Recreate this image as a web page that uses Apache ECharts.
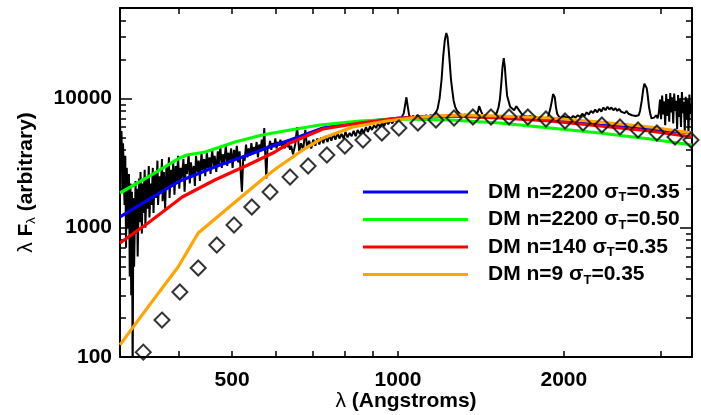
<!DOCTYPE html>
<html><head><meta charset="utf-8">
<script src="https://cdn.jsdelivr.net/npm/echarts@6/dist/echarts.min.js"></script>
<style>html,body{margin:0;padding:0;background:#fff}#c{width:701px;height:415px}</style>
</head><body><div id="c"></div>
<script>
// ---- axes ----
const xMin = 313, xMax = 3417;
const yMin = 100, yMax = 50000;
const xTickValues = [400, 500, 600, 700, 800, 900, 1000, 2000, 3000];
const xLabelValues = [500, 1000, 2000];
const yMajorValues = [100, 1000, 10000];
const yMinorValues = [200, 300, 400, 500, 600, 700, 800, 900, 2000, 3000, 4000, 5000, 6000, 7000, 8000, 9000, 20000, 30000, 40000, 50000];

// ---- observed spectrum (black) ----
const specWave = [313,314,315,316,317,319,320,321,322,324,325,326,327,328,329,330,331,332,334,335,336,337,339,340,341,343,344,345,347,348,350,351,353,354,356,357,359,360,362,364,366,367,369,371,373,374,376,378,380,382,384,385,387,389,391,393,395,397,399,401,403,405,408,410,412,414,417,419,421,423,426,428,430,433,435,437,440,442,445,447,450,452,455,457,460,463,465,468,471,473,476,479,481,484,487,490,492,495,498,501,504,507,510,513,516,519,521,524,527,530,533,536,539,542,545,548,551,554,557,560,563,566,569,572,574,577,580,583,586,589,592,596,599,602,605,609,612,616,619,623,626,630,633,637,640,645,651,656,662,667,673,679,684,690,696,702,708,714,720,726,732,738,745,751,757,764,770,777,783,790,797,803,810,817,824,831,838,845,853,860,867,875,882,890,897,905,913,920,928,936,944,952,960,969,977,985,994,1002,1010,1018,1024,1030,1036,1042,1048,1055,1065,1075,1085,1095,1105,1115,1125,1135,1145,1155,1165,1172,1180,1190,1200,1208,1216,1224,1230,1236,1242,1248,1255,1262,1270,1280,1295,1310,1325,1340,1355,1370,1385,1397,1404,1410,1416,1426,1440,1455,1470,1485,1500,1512,1522,1531,1540,1548,1556,1563,1570,1578,1588,1598,1610,1625,1640,1651,1662,1680,1700,1720,1740,1760,1780,1800,1820,1840,1860,1875,1890,1903,1912,1919,1926,1935,1945,1960,1980,2000,2020,2040,2060,2080,2100,2120,2140,2160,2180,2200,2220,2240,2260,2280,2300,2320,2340,2360,2380,2400,2420,2440,2460,2480,2500,2520,2540,2560,2580,2600,2620,2640,2660,2680,2700,2720,2735,2750,2770,2785,2800,2815,2828,2840,2855,2870,2885,2900,2915,2930,2945,2960,2975,2990,3003,3016,3029,3042,3055,3068,3081,3094,3107,3120,3133,3146,3159,3172,3185,3198,3211,3224,3237,3250,3263,3276,3289,3302,3315,3328,3341,3354,3367,3380,3393,3406,3417];
const specFlux = [7200,3000,5600,1900,4500,1500,3600,700,2900,1000,2600,420,2200,300,1900,60,1700,500,2300,900,2000,600,2400,1100,2700,900,2200,1300,2800,1000,2500,1400,3000,1200,2200,1500,2900,1300,2600,1700,3300,1500,2500,1900,3400,1600,2700,1400,3000,2000,3500,1700,2800,2100,3200,1800,3000,2300,3600,2000,2900,2400,3400,1900,3100,2600,3700,2200,3200,2500,3000,2100,3600,2700,3300,2300,3800,2800,3400,2500,3900,2900,3500,2600,4000,3000,3600,2700,3900,3100,4200,2900,3700,3200,4300,3000,3800,3300,4100,2900,4000,3400,4300,3200,3900,2400,1900,3600,3300,4400,3500,4100,3600,4500,3700,4200,3800,4600,3500,4400,3900,4800,4000,5900,3900,2400,4300,4100,4700,4000,4500,4200,4900,4100,4600,4300,4800,4200,4500,4100,4700,4200,4400,4000,4300,3700,4400,6000,3900,4500,4000,5700,4200,4700,4100,4800,4300,4900,4400,5000,4500,5100,4600,5200,4700,5300,4800,5400,4900,5300,4900,5500,5000,5400,5100,5600,5100,5700,5300,5800,5400,6000,5500,6100,5700,6200,5900,6400,6000,6500,6100,6700,6300,6800,6400,7000,6600,7100,6800,7300,7600,8800,10200,8600,7400,7100,7300,7100,7400,7200,7300,7100,7400,7200,7400,7300,7500,7800,8300,10000,14000,21000,28000,32000,30000,24000,18500,14000,11500,9600,8600,8000,7600,7400,7500,7300,7400,7300,7500,7900,8700,8900,7900,7400,7300,7200,7300,7200,7400,7800,8500,9800,13000,17500,20500,17500,13500,10500,9500,8600,8300,8100,8700,8900,8000,7500,7300,7200,7300,7100,7200,7000,7100,7000,6900,7300,8300,9600,10800,11000,10200,8600,7600,7200,7000,7300,7100,7200,7000,7300,7100,7400,7200,7600,7300,7800,7500,8000,7700,8200,7800,8300,7900,8500,8100,8600,8200,8500,8100,8400,8000,8300,7900,8100,7700,8000,7600,7800,7400,7600,7300,7500,7400,8000,9600,11500,13000,13400,12000,10500,8600,7600,7000,6800,7100,6900,7400,7000,7800,9800,6900,10500,7500,9500,6200,10800,7300,9900,6600,11000,7800,10200,6400,10900,8000,9600,5800,10600,7200,10000,6000,11200,7700,9400,5500,10300,6900,9800,5300,10700,7600,9100,6000];

// ---- model curves ----
const modelN = ['2200', '2200', '140', '9'];
const modelSigma = ['0.35', '0.50', '0.35', '0.35'];
const modelColors = ['#0000ff', '#00ff00', '#ff0000', '#ffa500'];

const blueWave = [313,352,402,465,534,598,637,731,853,1008,1243,1531,1888,2326,2867,3417];
const blueFlux = [1210,1638,2297,2947,3650,4362,4769,5904,6570,7053,7310,7180,6807,6228,5798,5401];

const greenWave = [313,352,402,414,447,506,567,637,722,853,1008,1243,1531,1888,2326,2867,3417];
const greenFlux = [1855,2467,3460,3650,3850,4600,5212,5696,6228,6686,6930,6807,6452,5904,5401,4853,4362];

const redWave = [313,352,406,465,534,598,637,731,853,1008,1243,1531,1888,2326,2867,3417];
const redFlux = [762,1087,1728,2338,3054,3850,4520,5798,6452,7053,7310,7053,6686,6115,5597,5028];

const orangeWave = [313,352,399,434,499,574,603,672,731,828,955,1096,1296,1531,1888,2326,2867,3417];
const orangeFlux = [124,244,497,910,1498,2467,2895,3990,4940,6007,6686,7180,7438,7310,7053,6570,6007,5401];

// ---- diamonds ----
const diamondWave = [345,373,402,434,469,504,543,586,637,687,743,801,864,935,1004,1087,1172,1264,1368,1475,1591,1721,1856,2010,2167,2345,2529,2727,2951,3183,3403];
const diamondFlux = [109,193,318,488,735,1049,1446,1888,2467,3001,3650,4284,4769,5401,5904,6452,6807,7053,7180,7180,7180,7180,6930,6686,6452,6228,6007,5696,5401,5028,4769];

// ---------------------------------------------------------
const FONT = 'Liberation Sans, Arial, Helvetica, sans-serif';
const zip = (a, b) => a.map((v, i) => [v, b[i]]);
const modelWaves = [blueWave, greenWave, redWave, orangeWave];
const modelFluxes = [blueFlux, greenFlux, redFlux, orangeFlux];
const modelNames = modelN.map((n, i) => 'DM n=' + n + ' σT=' + modelSigma[i]);

const tickStyle = { color: '#000', width: 1.5 };
function xAx(pos, labels) {
  return {
    type: 'log', logBase: 10, min: xMin, max: xMax, position: pos,
    axisLine: { show: true, lineStyle: { color: '#000', width: 2 } },
    axisTick: { show: true, inside: true, length: 6, customValues: xTickValues, lineStyle: tickStyle },
    axisLabel: labels ? { show: true, customValues: xLabelValues, formatter: v => String(Math.round(v)),
      fontSize: 21, fontWeight: 'bold', color: '#000', fontFamily: FONT, margin: 13 } : { show: false },
    splitLine: { show: false }, minorTick: { show: false }
  };
}
function yAx(pos, major, showLine, labels) {
  return {
    type: 'log', logBase: 10, min: yMin, max: yMax, position: pos, offset: 0,
    axisLine: { show: showLine, lineStyle: { color: '#000', width: 2 } },
    axisTick: { show: true, inside: true, length: major ? 12 : 6,
      customValues: major ? yMajorValues : yMinorValues, lineStyle: tickStyle },
    axisLabel: labels ? { show: true, customValues: yMajorValues, formatter: v => String(Math.round(v)),
      fontSize: 21, fontWeight: 'bold', color: '#000', fontFamily: FONT, margin: 8 } : { show: false },
    splitLine: { show: false }
  };
}

const xAxes = [xAx('bottom', true), xAx('top', false)];
xAxes[0].name = '{l|λ} (Angstroms)';
xAxes[0].nameLocation = 'middle';
xAxes[0].nameGap = 34;
xAxes[0].nameMoveOverlap = false;
xAxes[0].nameTextStyle = { fontSize: 21, fontWeight: 'bold', color: '#000', fontFamily: FONT,
  rich: { l: { fontSize: 21, fontWeight: 'normal', color: '#000', fontFamily: FONT } } };

const yAxes = [yAx('left', true, true, true), yAx('left', false, false, false),
               yAx('right', true, true, false), yAx('right', false, false, false)];
yAxes[0].name = '{l|λ} F{s|λ} (arbitrary)';
yAxes[0].nameLocation = 'middle';
yAxes[0].nameRotate = 90;
yAxes[0].nameGap = 82;
yAxes[0].nameMoveOverlap = false;
yAxes[0].nameTextStyle = { fontSize: 21, fontWeight: 'bold', color: '#000', fontFamily: FONT, lineHeight: 24,
  rich: { l: { fontSize: 21, fontWeight: 'normal', color: '#000', fontFamily: FONT, lineHeight: 24 },
          s: { fontSize: 13, fontWeight: 'normal', color: '#000', fontFamily: FONT, lineHeight: 10, verticalAlign: 'bottom' } } };

const series = [{
  name: 'spectrum', type: 'line', data: zip(specWave, specFlux), symbol: 'none', showSymbol: false,
  lineStyle: { color: '#000', width: 2 }, itemStyle: { color: '#000' }, z: 2
}];
modelNames.forEach((nm, i) => {
  series.push({
    name: nm, type: 'line', data: zip(modelWaves[i], modelFluxes[i]), symbol: 'none', showSymbol: false,
    color: modelColors[i], lineStyle: { color: modelColors[i], width: 3.2 }, itemStyle: { color: modelColors[i] }, z: 3
  });
});
series.push({
  name: 'diamonds', type: 'scatter', data: zip(diamondWave, diamondFlux), symbol: 'diamond', symbolSize: 15,
  itemStyle: { color: 'transparent', borderColor: '#000', borderWidth: 2 }, z: 4
});

const chart = echarts.init(document.getElementById('c'), null, { renderer: 'canvas' });
chart.setOption({
  animation: false,
  backgroundColor: '#fff',
  textStyle: { fontFamily: FONT },
  grid: { left: 120, right: 9, top: 8, bottom: 58, containLabel: false, outerBoundsMode: 'none' },
  legend: {
    data: modelNames, orient: 'vertical', left: 363, top: 180, itemGap: 3.5, padding: 0,
    icon: 'rect', itemWidth: 105, itemHeight: 3, selectedMode: false,
    formatter: nm => nm.replace('σT', 'σ{sub|T}'),
    textStyle: { fontSize: 21, fontWeight: 'bold', color: '#000', fontFamily: FONT, lineHeight: 24, padding: [0, 0, 0, 15],
      rich: { sub: { fontSize: 13, fontWeight: 'bold', color: '#000', fontFamily: FONT, lineHeight: 10, verticalAlign: 'bottom' } } }
  },
  xAxis: xAxes,
  yAxis: yAxes,
  series: series
});
</script></body></html>
